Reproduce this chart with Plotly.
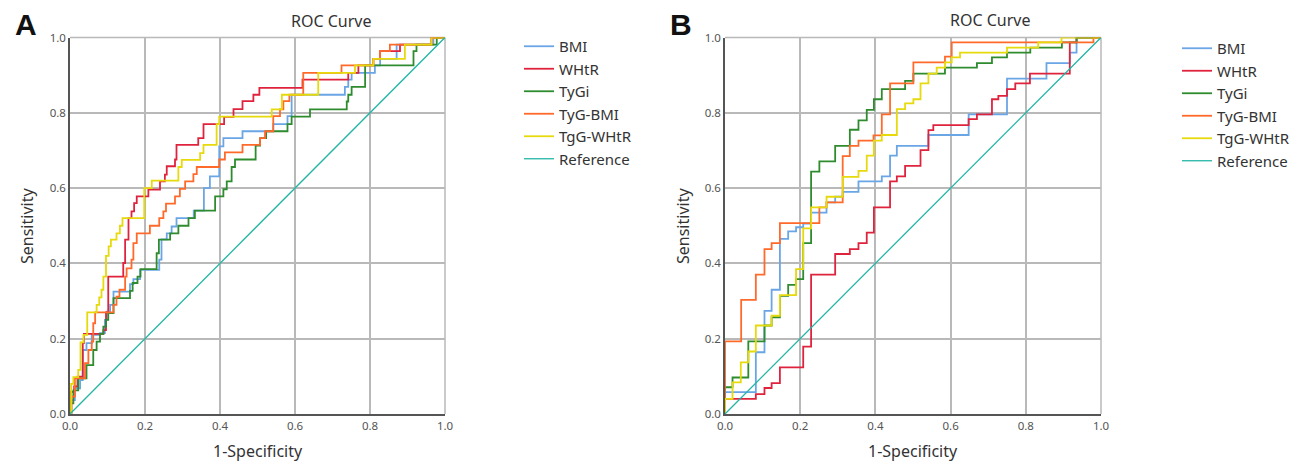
import plotly.graph_objects as go

# The page body has an 8px margin, so the figure is 8px smaller and offset accordingly
OFF = 8
W, H = 1299 - OFF, 464 - OFF

series_names = ["BMI", "WHtR", "TyGi", "TyG-BMI", "TgG-WHtR"]
colors = ["#6aa5e6", "#e0233d", "#2e8b2e", "#ff6a2b", "#e6d90c"]
ref_color = "#22b5a5"
tick_vals = [0.0, 0.2, 0.4, 0.6, 0.8, 1.0]
tick_text = ["0.0", "0.2", "0.4", "0.6", "0.8", "1.0"]

# ---------- Panel A (step vertices: x = 1-specificity where the curve rises, y = sensitivity after rise)
A_BMI_x = [0, 0.004, 0.013, 0.027, 0.034, 0.044, 0.058, 0.08, 0.093, 0.098, 0.107, 0.116, 0.16, 0.169, 0.187,
           0.238, 0.244, 0.258, 0.271, 0.284, 0.33, 0.357, 0.373, 0.398, 0.409, 0.46, 0.542, 0.58, 0.591,
           0.733, 0.742, 0.751, 0.813, 0.827, 0.871, 0.969, 1.0]
A_BMI_y = [0, 0.037, 0.068, 0.09, 0.17, 0.188, 0.21, 0.215, 0.25, 0.272, 0.29, 0.325, 0.345, 0.358, 0.383,
           0.41, 0.464, 0.48, 0.498, 0.52, 0.54, 0.6, 0.631, 0.711, 0.733, 0.751, 0.77, 0.791, 0.848,
           0.869, 0.888, 0.906, 0.926, 0.943, 0.981, 1.0, 1.0]

A_WHtR_x = [0, 0, 0.011, 0.02, 0.034, 0.037, 0.089, 0.096, 0.102, 0.142, 0.147, 0.156, 0.164, 0.171, 0.178,
            0.209, 0.24, 0.253, 0.258, 0.28, 0.284, 0.342, 0.356, 0.411, 0.436, 0.46, 0.489, 0.505, 0.62,
            0.742, 0.769, 0.809, 0.827, 0.88, 0.964, 1.0]
A_WHtR_y = [0, 0.059, 0.073, 0.099, 0.188, 0.213, 0.223, 0.27, 0.365, 0.401, 0.463, 0.52, 0.538, 0.56, 0.578,
            0.596, 0.618, 0.636, 0.658, 0.676, 0.715, 0.733, 0.77, 0.789, 0.81, 0.831, 0.848, 0.866, 0.888,
            0.906, 0.926, 0.943, 0.964, 0.981, 1.0, 1.0]

A_TyGi_x = [0, 0, 0.009, 0.022, 0.044, 0.062, 0.071, 0.08, 0.089, 0.096, 0.102, 0.116, 0.16, 0.167, 0.18,
            0.188, 0.231, 0.237, 0.267, 0.289, 0.316, 0.333, 0.387, 0.409, 0.418, 0.431, 0.44, 0.495, 0.507,
            0.523, 0.58, 0.591, 0.64, 0.738, 0.742, 0.751, 0.787, 0.916, 0.924, 0.978, 1.0]
A_TyGi_y = [0, 0.028, 0.063, 0.095, 0.13, 0.17, 0.192, 0.213, 0.232, 0.25, 0.268, 0.308, 0.327, 0.348, 0.365,
            0.385, 0.427, 0.463, 0.48, 0.5, 0.52, 0.54, 0.578, 0.597, 0.618, 0.656, 0.676, 0.713, 0.733,
            0.751, 0.77, 0.79, 0.809, 0.83, 0.848, 0.869, 0.926, 0.964, 0.981, 1.0, 1.0]

A_TyGBMI_x = [0, 0.004, 0.013, 0.04, 0.049, 0.058, 0.062, 0.067, 0.116, 0.124, 0.132, 0.147, 0.151, 0.164,
              0.169, 0.178, 0.213, 0.238, 0.249, 0.256, 0.28, 0.293, 0.307, 0.329, 0.338, 0.398, 0.413, 0.46,
              0.507, 0.52, 0.542, 0.56, 0.569, 0.585, 0.622, 0.724, 0.809, 0.827, 0.853, 0.964, 1.0]
A_TyGBMI_y = [0, 0.046, 0.095, 0.135, 0.17, 0.192, 0.241, 0.27, 0.29, 0.312, 0.33, 0.365, 0.387, 0.41,
              0.454, 0.48, 0.5, 0.52, 0.538, 0.559, 0.578, 0.598, 0.618, 0.637, 0.656, 0.676, 0.695, 0.715,
              0.733, 0.751, 0.791, 0.809, 0.831, 0.848, 0.906, 0.926, 0.943, 0.964, 0.981, 1.0, 1.0]

A_TgGWHtR_x = [0, 0.003, 0.009, 0.022, 0.028, 0.036, 0.046, 0.071, 0.078, 0.084, 0.089, 0.096, 0.103, 0.109,
               0.124, 0.133, 0.14, 0.198, 0.218, 0.289, 0.298, 0.347, 0.356, 0.391, 0.398, 0.538, 0.565,
               0.662, 0.76, 0.809, 0.893, 0.964, 1.0]
A_TgGWHtR_y = [0, 0.08, 0.098, 0.117, 0.19, 0.21, 0.27, 0.29, 0.31, 0.33, 0.365, 0.42, 0.445, 0.463,
               0.48, 0.5, 0.52, 0.6, 0.62, 0.656, 0.675, 0.693, 0.715, 0.77, 0.79, 0.809, 0.848,
               0.906, 0.926, 0.943, 0.981, 1.0, 1.0]

# ---------- Panel B
B_BMI_x = [0, 0, 0.082, 0.105, 0.124, 0.146, 0.168, 0.189, 0.208, 0.229, 0.27, 0.293, 0.313, 0.355, 0.417,
           0.439, 0.457, 0.541, 0.648, 0.75, 0.855, 0.917, 0.935, 1.0]
B_BMI_y = [0, 0.058, 0.164, 0.274, 0.33, 0.465, 0.485, 0.496, 0.506, 0.535, 0.562, 0.577, 0.59, 0.618, 0.631,
           0.686, 0.712, 0.741, 0.796, 0.891, 0.932, 0.96, 1.0, 1.0]

B_WHtR_x = [0, 0, 0.082, 0.105, 0.124, 0.146, 0.208, 0.229, 0.293, 0.332, 0.355, 0.377, 0.396, 0.439, 0.457,
            0.479, 0.52, 0.541, 0.554, 0.648, 0.67, 0.71, 0.727, 0.75, 0.772, 0.811, 0.917, 0.935, 1.0]
B_WHtR_y = [0, 0.04, 0.053, 0.069, 0.082, 0.124, 0.179, 0.37, 0.425, 0.438, 0.454, 0.482, 0.549, 0.618, 0.631,
            0.659, 0.701, 0.754, 0.767, 0.783, 0.796, 0.836, 0.845, 0.863, 0.878, 0.904, 0.987, 1.0, 1.0]

B_TyGi_x = [0, 0, 0.02, 0.062, 0.105, 0.124, 0.146, 0.168, 0.189, 0.208, 0.229, 0.251, 0.293, 0.332, 0.355,
            0.377, 0.396, 0.417, 0.479, 0.501, 0.585, 0.67, 0.71, 0.75, 0.812, 0.896, 0.935, 1.0]
B_TyGi_y = [0, 0.071, 0.097, 0.193, 0.235, 0.257, 0.314, 0.343, 0.358, 0.454, 0.644, 0.671, 0.712, 0.755, 0.78,
            0.808, 0.836, 0.863, 0.885, 0.904, 0.92, 0.932, 0.947, 0.96, 0.973, 0.987, 1.0, 1.0]

B_TyGBMI_x = [0, 0, 0.043, 0.082, 0.105, 0.124, 0.146, 0.251, 0.27, 0.313, 0.332, 0.355, 0.395, 0.417, 0.439,
              0.501, 0.585, 0.603, 0.98, 1.0]
B_TyGBMI_y = [0, 0.193, 0.303, 0.37, 0.438, 0.454, 0.507, 0.549, 0.562, 0.685, 0.712, 0.726, 0.74, 0.796, 0.878,
              0.934, 0.949, 0.987, 1.0, 1.0]

B_TgGWHtR_x = [0, 0, 0.02, 0.042, 0.062, 0.082, 0.124, 0.146, 0.189, 0.208, 0.229, 0.27, 0.313, 0.355, 0.377,
               0.396, 0.417, 0.457, 0.479, 0.501, 0.52, 0.541, 0.563, 0.585, 0.603, 0.625, 0.75, 0.833, 0.895, 1.0]
B_TgGWHtR_y = [0, 0.04, 0.084, 0.137, 0.166, 0.235, 0.261, 0.316, 0.385, 0.493, 0.549, 0.577, 0.63, 0.646, 0.686,
               0.726, 0.741, 0.81, 0.825, 0.836, 0.878, 0.904, 0.92, 0.934, 0.947, 0.96, 0.973, 0.987, 1.0, 1.0]

ref_x = [0.0, 1.0]
ref_y = [0.0, 1.0]

panelA = [(A_BMI_x, A_BMI_y), (A_WHtR_x, A_WHtR_y), (A_TyGi_x, A_TyGi_y),
          (A_TyGBMI_x, A_TyGBMI_y), (A_TgGWHtR_x, A_TgGWHtR_y)]
panelB = [(B_BMI_x, B_BMI_y), (B_WHtR_x, B_WHtR_y), (B_TyGi_x, B_TyGi_y),
          (B_TyGBMI_x, B_TyGBMI_y), (B_TgGWHtR_x, B_TgGWHtR_y)]

fig = go.Figure()

def add_panel(data, xa, ya, leg):
    for name, col, (xs, ys) in zip(series_names, colors, data):
        fig.add_trace(go.Scatter(x=xs, y=ys, mode="lines", name=name,
                                 line=dict(color=col, width=1.8, shape="hv"),
                                 xaxis=xa, yaxis=ya, legend=leg))
    fig.add_trace(go.Scatter(x=ref_x, y=ref_y, mode="lines", name="Reference",
                             line=dict(color=ref_color, width=1.3),
                             xaxis=xa, yaxis=ya, legend=leg))

add_panel(panelA, "x", "y", "legend")
add_panel(panelB, "x2", "y2", "legend2")

def px(v):
    return (v - OFF) / W

def py(v):
    return 1 - (v - OFF) / H

FONT = "Noto Sans, Open Sans, sans-serif"
axis_common = dict(range=[0, 1], tickvals=tick_vals, ticktext=tick_text, showgrid=True,
                   gridcolor="#b9b9b9", gridwidth=1.5, zeroline=False, showline=True,
                   linecolor="#555555", linewidth=1.5, ticks="", automargin=False,
                   tickfont=dict(family=FONT, size=11.5, color="#555555"), fixedrange=True)

yA0, yA1 = py(414), py(37.5)
fig.update_layout(
    width=W, height=H, margin=dict(l=0, r=0, t=0, b=0, pad=0, autoexpand=False),
    paper_bgcolor="white", plot_bgcolor="white",
    font=dict(family=FONT, color="#333333"),
    xaxis=dict(domain=[px(70), px(445)], anchor="y", **axis_common),
    yaxis=dict(domain=[yA0, yA1], anchor="x", **axis_common),
    xaxis2=dict(domain=[px(725), px(1101)], anchor="y2", **axis_common),
    yaxis2=dict(domain=[yA0, yA1], anchor="x2", **axis_common),
    legend=dict(x=px(519), y=py(30), xanchor="left", yanchor="top",
                font=dict(family=FONT, size=15, color="#333333"),
                bgcolor="rgba(0,0,0,0)", tracegroupgap=0),
    legend2=dict(x=px(1177), y=py(32), xanchor="left", yanchor="top",
                 font=dict(family=FONT, size=15, color="#333333"),
                 bgcolor="rgba(0,0,0,0)", tracegroupgap=0),
)

# light border on top and right
for xa, ya in [("x", "y"), ("x2", "y2")]:
    fig.add_shape(type="line", xref=f"{xa} domain", yref=f"{ya} domain", x0=0, x1=1, y0=1, y1=1,
                  line=dict(color="#b9b9b9", width=1.5), layer="below")
    fig.add_shape(type="line", xref=f"{xa} domain", yref=f"{ya} domain", x0=1, x1=1, y0=0, y1=1,
                  line=dict(color="#b9b9b9", width=1.5), layer="below")

ann = []
# panel letters
ann.append(dict(text="<b>A</b>", x=px(26), y=py(25), font=dict(family="Liberation Sans, Arial", size=30, color="#111111")))
ann.append(dict(text="<b>B</b>", x=px(681), y=py(25), font=dict(family="Liberation Sans, Arial", size=30, color="#111111")))
# titles
ann.append(dict(text="ROC Curve", x=px(331), y=py(21), font=dict(family=FONT, size=16, color="#333333")))
ann.append(dict(text="ROC Curve", x=px(990), y=py(20), font=dict(family=FONT, size=16, color="#333333")))
# axis titles
ann.append(dict(text="Sensitivity", x=px(27), y=py(226), textangle=-90, font=dict(family=FONT, size=16, color="#333333")))
ann.append(dict(text="Sensitivity", x=px(683), y=py(226), textangle=-90, font=dict(family=FONT, size=16, color="#333333")))
ann.append(dict(text="1-Specificity", x=px(258), y=py(451), font=dict(family=FONT, size=16, color="#333333")))
ann.append(dict(text="1-Specificity", x=px(913), y=py(451), font=dict(family=FONT, size=16, color="#333333")))
for a in ann:
    a.update(xref="paper", yref="paper", showarrow=False, xanchor="center", yanchor="middle")
    fig.add_annotation(**a)

fig.write_html("out.html")
